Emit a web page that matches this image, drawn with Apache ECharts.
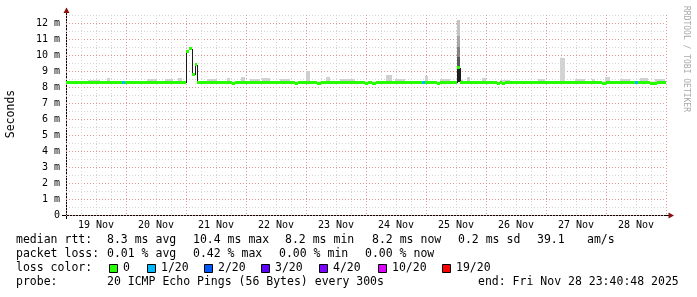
<!DOCTYPE html>
<html><head><meta charset="utf-8">
<script src="https://cdn.jsdelivr.net/npm/echarts@6/dist/echarts.min.js"></script>
<style>html,body{margin:0;padding:0;background:#fff}#c{width:697px;height:297px}</style>
</head><body><div id="c"></div>
<script>
// ---- data (x = hours since 19 Nov 00:00, y = milliseconds) ----
const dayLabels = ['19 Nov','20 Nov','21 Nov','22 Nov','23 Nov','24 Nov','25 Nov','26 Nov','27 Nov','28 Nov'];
const yTickValues = [0,1,2,3,4,5,6,7,8,9,10,11,12];

// median rtt segments: start hour, value (ms), loss class index
const segStart = [0, 22.3, 23.6, 48.0, 49.2, 50.4, 51.6, 52.4, 66.3, 67.6, 91.6, 92.6, 100.4, 101.8,
  119.6, 120.6, 122.4, 123.8, 142.2, 143.6, 148.2, 149.6, 156.2, 157.6, 172.2, 173.6, 174.2, 175.6,
  214.2, 215.8, 227.6, 228.6, 233.6, 236.2];
const segValue = [8.27, 8.27, 8.27, 10.25, 10.38, 8.78, 9.4, 8.27, 8.2, 8.27, 8.2, 8.27, 8.2, 8.27,
  8.2, 8.27, 8.2, 8.27, 8.27, 8.27, 8.2, 8.27, 9.2, 8.27, 8.2, 8.27, 8.2, 8.27,
  8.2, 8.27, 8.27, 8.27, 8.2, 8.27];
const segLoss = [0, 1, 0, 0, 0, 0, 0, 0, 0, 0, 0, 0, 0, 0,
  0, 0, 0, 0, 1, 0, 0, 0, 0, 0, 0, 0, 0, 0,
  0, 0, 1, 0, 0, 0];
const endHour = 240;

// smoke (ping spread): start hour, end hour, low ms, high ms, density
const smokeStart = [0, 52.4, 8.8, 16.4, 32.4, 39.6, 44.8, 56.4, 64.4, 70, 73.6, 78.4, 85.6, 96, 104, 109.6,
  128, 131.6, 143.6, 149.6, 157.6, 160.4, 166.4, 173.6, 188.8, 197.6, 203.6, 210.4, 215.6, 221.6, 229.6, 235.6,
  156.2, 156.2, 156.2, 156.2, 156.2, 157.6];
const smokeEnd = [48, 240, 13.6, 17.6, 36.4, 42.8, 46.4, 60.4, 65.6, 71.6, 77.6, 81.6, 89.6, 97.6, 105.6, 115.6,
  130.4, 135.6, 144.8, 153.6, 158.8, 161.6, 168, 177.6, 191.6, 199.6, 207.6, 211.6, 217.6, 225.6, 232.8, 239.6,
  157.6, 157.6, 157.6, 157.6, 157.6, 158.6];
const smokeLo = [8.3, 8.3, 8.3, 8.3, 8.3, 8.3, 8.3, 8.3, 8.3, 8.3, 8.3, 8.3, 8.3, 8.3, 8.3, 8.3,
  8.3, 8.3, 8.3, 8.3, 8.3, 8.3, 8.3, 8.3, 8.3, 8.3, 8.3, 8.3, 8.3, 8.3, 8.3, 8.3,
  8.3, 9.3, 9.9, 10.5, 11.2, 8.3];
const smokeHi = [8.4, 8.4, 8.45, 8.55, 8.52, 8.5, 8.56, 8.5, 8.56, 8.65, 8.5, 8.56, 8.5, 9.0, 8.6, 8.5,
  8.75, 8.5, 8.7, 8.5, 8.45, 8.6, 8.56, 8.45, 8.53, 9.8, 8.5, 8.5, 8.6, 8.5, 8.56, 8.5,
  9.3, 9.9, 10.5, 11.2, 12.2, 8.45];
const smokeDensity = [0.04, 0.04, 0.14, 0.14, 0.14, 0.14, 0.14, 0.14, 0.14, 0.15, 0.14, 0.14, 0.14, 0.15, 0.14, 0.14,
  0.15, 0.14, 0.15, 0.14, 0.14, 0.15, 0.14, 0.14, 0.14, 0.13, 0.14, 0.14, 0.14, 0.14, 0.14, 0.14,
  0.95, 0.7, 0.5, 0.33, 0.2, 0.2];

// legend / statistics texts
const lossLabels = ['0', '1/20', '2/20', '3/20', '4/20', '10/20', '19/20'];
const lossColors = ['#26ff00', '#00b8ff', '#0059ff', '#5e00ff', '#7e00ff', '#dd00ff', '#ff0000'];
const rttItems = ['median rtt:', '8.3 ms avg', '10.4 ms max', '8.2 ms min', '8.2 ms now', '0.2 ms sd', '39.1', 'am/s'];
const lossItems = ['packet loss:', '0.01 % avg', '0.42 % max', '0.00 % min', '0.00 % now'];
const probeItems = ['probe:', '20 ICMP Echo Pings (56 Bytes) every 300s', 'end: Fri Nov 28 23:40:48 2025'];

// ---- layout ----
const FONT = '"DejaVu Sans Mono", monospace';
const rttX = [16, 107, 193, 285, 372, 458, 537, 587];
const lossX = [16, 107, 193, 279, 365];
const probeX = [16, 107, 478];
const sqX = [109, 147, 204, 261, 319, 378, 442];
const rowY = [240.5, 254.5, 268.5, 282.5];

// build series data
const segData = segStart.map((s, i) => [s, i + 1 < segStart.length ? segStart[i + 1] : endHour, segValue[i], segLoss[i]]);
const connData = [];
for (let i = 1; i < segStart.length; i++) {
  if (Math.abs(segValue[i] - segValue[i - 1]) > 0.3) connData.push([segStart[i], segValue[i - 1], segValue[i]]);
}
const smokeData = smokeStart.map((s, i) => [s, smokeEnd[i], smokeLo[i], smokeHi[i], smokeDensity[i]]);

function grayOf(d) { const g = Math.max(0, Math.round(240 - 220 * d)); return 'rgb(' + g + ',' + g + ',' + g + ')'; }

const texts = [];
function addText(str, x, y, extra) {
  texts.push(Object.assign({ type: 'text', x: x, y: y, style: { text: str, font: '11.5px ' + FONT, fill: '#000', textVerticalAlign: 'middle' } }, extra || {}));
}
rttItems.forEach((t, i) => addText(t, rttX[i], rowY[0]));
lossItems.forEach((t, i) => addText(t, lossX[i], rowY[1]));
addText('loss color:', 16, rowY[2]);
lossLabels.forEach((t, i) => {
  texts.push({ type: 'rect', shape: { x: sqX[i] + 0.5, y: rowY[2] - 4, width: 8, height: 8 }, style: { fill: lossColors[i], stroke: '#000', lineWidth: 1 } });
  addText(t, sqX[i] + 14, rowY[2]);
});
probeItems.forEach((t, i) => addText(t, probeX[i], rowY[3]));
// y axis title
texts.push({ type: 'text', x: 11, y: 114, rotation: Math.PI / 2, style: { text: 'Seconds', font: '11.5px ' + FONT, fill: '#000', textAlign: 'center', textVerticalAlign: 'middle' } });
// watermark
texts.push({ type: 'text', x: 686, y: 59, rotation: -Math.PI / 2, style: { text: 'RRDTOOL / TOBI OETIKER', font: '8px ' + FONT, fill: '#a8a8a8', textAlign: 'center', textVerticalAlign: 'middle' } });
// axis extensions and arrows
texts.push({ type: 'line', shape: { x1: 66.5, y1: 8, x2: 66.5, y2: 219 }, style: { stroke: '#000', lineWidth: 1 } });
texts.push({ type: 'line', shape: { x1: 62, y1: 215.5, x2: 670, y2: 215.5 }, style: { stroke: '#000', lineWidth: 1 } });
texts.push({ type: 'polygon', shape: { points: [[66.5, 7.5], [63.5, 13], [69.5, 13]] }, style: { fill: '#8b1010' } });
texts.push({ type: 'polygon', shape: { points: [[674, 215.5], [668.5, 212.5], [668.5, 218.5]] }, style: { fill: '#8b1010' } });

const chart = echarts.init(document.getElementById('c'), null, { renderer: 'canvas' });
const MAJ = '#e09595', MIN = '#d4d4d4';
chart.setOption({
  backgroundColor: '#fff',
  animation: false,
  grid: { left: 66, top: 15, width: 600, height: 200 },
  xAxis: {
    type: 'value', min: 0, max: endHour, interval: 6,
    axisLine: { show: false },
    axisTick: { show: false },
    splitLine: { show: true, lineStyle: { color: [MAJ, MIN, MIN, MIN], type: [1, 2], width: 1 } },
    axisLabel: {
      margin: 5, fontSize: 10, fontFamily: FONT, color: '#000',
      formatter: v => (v % 24 === 12 ? dayLabels[(v - 12) / 24] : '')
    }
  },
  yAxis: {
    type: 'value', min: 0, max: 12.5, interval: 0.5,
    axisLine: { show: false },
    axisTick: { show: false },
    splitLine: { show: true, lineStyle: { color: [MAJ, MIN], type: [1, 2], width: 1 } },
    axisLabel: {
      margin: 6, fontSize: 10, fontFamily: FONT, color: '#000',
      formatter: v => (yTickValues.indexOf(v) >= 0 ? (v === 0 ? '0' : v + ' m') : '')
    }
  },
  series: [
    {
      type: 'custom', name: 'smoke', data: smokeData, encode: { x: [0, 1], y: [2, 3] },
      renderItem: (params, api) => {
        const p0 = api.coord([api.value(0), api.value(3)]);
        const p1 = api.coord([api.value(1), api.value(2)]);
        const x0 = Math.round(p0[0]), x1 = Math.round(p1[0]), y0 = Math.round(p0[1]), y1 = Math.round(p1[1]);
        return { type: 'rect', shape: { x: x0, y: y0, width: Math.max(1, x1 - x0), height: y1 - y0 }, style: { fill: grayOf(api.value(4)) } };
      }
    },
    {
      type: 'custom', name: 'jumps', data: connData, encode: { x: 0, y: [1, 2] },
      renderItem: (params, api) => {
        const a = api.coord([api.value(0), api.value(1)]);
        const b = api.coord([api.value(0), api.value(2)]);
        const x = Math.round(a[0]) + 0.5;
        return { type: 'line', shape: { x1: x, y1: Math.round(a[1]), x2: x, y2: Math.round(b[1]) }, style: { stroke: '#1a1a1a', lineWidth: 1 } };
      }
    },
    {
      type: 'custom', name: 'median', data: segData, encode: { x: [0, 1], y: 2 },
      renderItem: (params, api) => {
        const a = api.coord([api.value(0), api.value(2)]);
        const b = api.coord([api.value(1), api.value(2)]);
        const x0 = Math.round(a[0]), x1 = Math.round(b[0]), y0 = Math.round(a[1] - 1.5);
        return { type: 'rect', shape: { x: x0, y: y0, width: x1 - x0, height: 3 }, style: { fill: lossColors[api.value(3)], opacity: 1 } };
      }
    }
  ],
  graphic: texts
});
</script></body></html>
